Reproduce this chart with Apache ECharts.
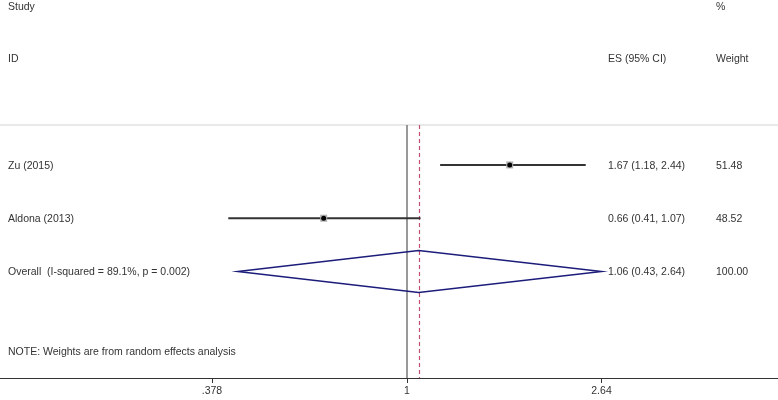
<!DOCTYPE html>
<html>
<head>
<meta charset="utf-8">
<script src="https://cdn.jsdelivr.net/npm/echarts@6/dist/echarts.min.js"></script>
<style>
  html, body { margin: 0; padding: 0; background: #fff; }
  #forest { width: 778px; height: 400px; }
</style>
</head>
<body>
<div id="forest"></div>
<script>
var studies = ["Zu (2015)", "Aldona (2013)"];
var es = [1.67, 0.66];
var lower = [1.18, 0.41];
var upper = [2.44, 1.07];
var weights = ["51.48", "48.52"];
var overallLabel = "Overall  (I-squared = 89.1%, p = 0.002)";
var overallEs = 1.06;
var overallLower = 0.43;
var overallUpper = 2.64;
var overallWeight = "100.00";
var tickValues = [0.378, 1, 2.64];
var tickLabels = [".378", "1", "2.64"];
var noteText = "NOTE: Weights are from random effects analysis";

var FONT = "Liberation Sans, Arial, sans-serif";
var TXT = "#333";

function ci(e, l, u) {
  return e.toFixed(2) + " (" + l.toFixed(2) + ", " + u.toFixed(2) + ")";
}

function txt(x, y, s) {
  return {
    type: "text",
    x: x,
    y: y,
    style: { text: s, fill: TXT, font: "10.5px " + FONT, verticalAlign: "middle" },
  };
}

// study rows: [ln es, ln lower, ln upper, row]
var studyData = studies.map(function (s, i) {
  return [Math.log(es[i]), Math.log(lower[i]), Math.log(upper[i]), i + 1];
});
var overallData = [[Math.log(overallEs), Math.log(overallLower), Math.log(overallUpper), studies.length + 1]];

var chartDom = document.getElementById("forest");
var myChart = echarts.init(chartDom);

var option = {
  animation: false,
  grid: { left: 0, right: 0, top: 125, bottom: 22 },
  xAxis: [
    {
      type: "value",
      min: -2.0307,
      max: 1.8515,
      position: "bottom",
      axisLine: { show: true, lineStyle: { color: "#333", width: 1 } },
      axisTick: {
        show: true,
        length: 5,
        customValues: tickValues.map(Math.log),
        lineStyle: { color: "#333" },
      },
      axisLabel: {
        customValues: tickValues.map(Math.log),
        margin: 8,
        color: TXT,
        fontFamily: FONT,
        fontSize: 10.5,
        formatter: function (v) {
          var best = 0;
          tickValues.forEach(function (t, k) {
            if (Math.abs(Math.log(t) - v) < Math.abs(Math.log(tickValues[best]) - v)) best = k;
          });
          return tickLabels[best];
        },
      },
      splitLine: { show: false },
    },
    {
      type: "value",
      min: -2.0307,
      max: 1.8515,
      position: "top",
      axisLine: { show: true, lineStyle: { color: "#e2e2e2", width: 1.5 } },
      axisTick: { show: false },
      axisLabel: { show: false },
      splitLine: { show: false },
    },
  ],
  yAxis: { type: "value", inverse: true, min: 0.25, max: 5, show: false },
  graphic: [
    txt(8, 7, "Study"),
    txt(716, 7, "%"),
    txt(8, 59, "ID"),
    txt(608, 59, "ES (95% CI)"),
    txt(716, 59, "Weight"),
    txt(8, 352, noteText),
  ],
  series: [
    {
      type: "custom",
      name: "studies",
      data: studyData,
      encode: { x: [0, 1, 2], y: 3 },
      z: 5,
      renderItem: function (params, api) {
        var i = params.dataIndex;
        var row = api.value(3);
        var p = api.coord([api.value(0), row]);
        var pl = api.coord([api.value(1), row]);
        var pu = api.coord([api.value(2), row]);
        return {
          type: "group",
          children: [
            {
              type: "line",
              shape: { x1: pl[0], y1: p[1], x2: pu[0], y2: p[1] },
              style: { stroke: "#333", lineWidth: 2 },
            },
            {
              type: "rect",
              shape: { x: p[0] - 3.5, y: p[1] - 3.5, width: 7, height: 7 },
              style: { fill: "#b0b0b0" },
            },
            {
              type: "circle",
              shape: { cx: p[0], cy: p[1], r: 2.5 },
              style: { fill: "#000" },
            },
            txt(8, p[1] + 1, studies[i]),
            txt(608, p[1] + 1, ci(es[i], lower[i], upper[i])),
            txt(716, p[1] + 1, weights[i]),
          ],
        };
      },
    },
    {
      type: "custom",
      name: "overall",
      data: overallData,
      encode: { x: [0, 1, 2], y: 3 },
      z: 5,
      renderItem: function (params, api) {
        var row = api.value(3);
        var p = api.coord([api.value(0), row]);
        var pl = api.coord([api.value(1), row]);
        var pu = api.coord([api.value(2), row]);
        var h = 21;
        return {
          type: "group",
          children: [
            {
              type: "polygon",
              shape: { points: [[pl[0], p[1]], [p[0], p[1] - h], [pu[0], p[1]], [p[0], p[1] + h]] },
              style: { fill: "none", stroke: "#1c1c7a", lineWidth: 1.5 },
            },
            txt(8, p[1] + 1, overallLabel),
            txt(608, p[1] + 1, ci(overallEs, overallLower, overallUpper)),
            txt(716, p[1] + 1, overallWeight),
          ],
        };
      },
    },
    {
      type: "line",
      name: "null line",
      data: [],
      markLine: {
        silent: true,
        symbol: "none",
        label: { show: false },
        lineStyle: { color: "#777", width: 1.5, type: "solid" },
        data: [{ xAxis: 0 }],
      },
    },
    {
      type: "line",
      name: "overall line",
      data: [],
      markLine: {
        silent: true,
        symbol: "none",
        label: { show: false },
        lineStyle: { color: "#c0506e", width: 1.2, type: [4, 3] },
        data: [{ xAxis: Math.log(overallEs) }],
      },
    },
  ],
};

myChart.setOption(option);
window.addEventListener("resize", myChart.resize);
</script>
</body>
</html>
